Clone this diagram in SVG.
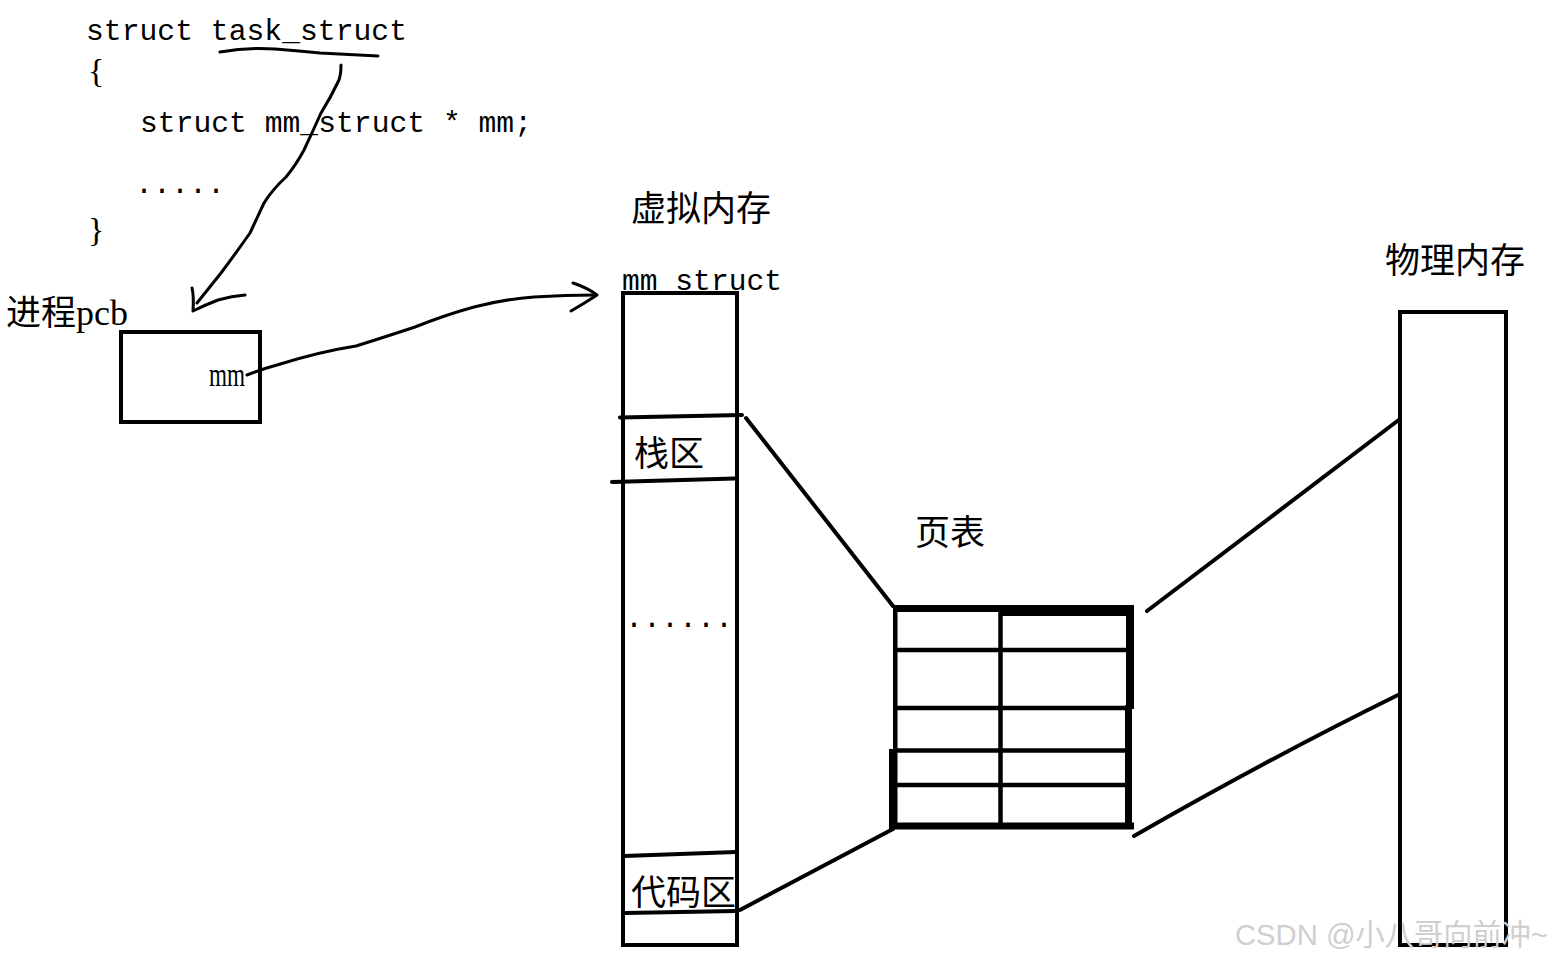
<svg xmlns="http://www.w3.org/2000/svg" width="1554" height="960" viewBox="0 0 1554 960">
<style>
.code{font-family:"Liberation Mono",monospace;font-size:30px;fill:#000}
.brace{font-family:"Liberation Serif",serif;font-size:34px;fill:#000}
.cjk{font-family:"Noto Sans CJK SC",sans-serif;font-size:35px;fill:#000}
.ser{font-family:"Liberation Serif","Noto Sans CJK SC",serif;fill:#000}
.box{fill:none;stroke:#000;stroke-width:4}
.ink{fill:none;stroke:#000;stroke-width:3;stroke-linecap:round;stroke-linejoin:round}
.ln{fill:none;stroke:#000;stroke-width:4;stroke-linecap:round}
.grid{stroke:#000;stroke-width:4.5}
.wm{font-family:"Liberation Sans","Noto Sans CJK SC",sans-serif;font-size:30px;fill:#cfcfcf}
</style>
<rect width="1554" height="960" fill="#fff"/>

<g id="code">
<text class="code" x="86" y="40" textLength="321" lengthAdjust="spacingAndGlyphs">struct task_struct</text>
<text class="brace" x="88" y="82">{</text>
<text class="code" x="140" y="132" textLength="392" lengthAdjust="spacingAndGlyphs">struct mm_struct * mm;</text>
<text class="code" x="135" y="193">.....</text>
<text class="brace" x="88" y="241">}</text>
</g>

<g id="pcb">
<text x="6" y="325"><tspan class="cjk">进程</tspan><tspan class="ser" font-size="36">pcb</tspan></text>
<rect class="box" x="121" y="332" width="139" height="90"/>
<text class="ser" x="209" y="386" font-size="34" textLength="36" lengthAdjust="spacingAndGlyphs">mm</text>
</g>

<g id="virtual-memory">
<text class="cjk" x="631" y="221">虚拟内存</text>
<text class="code" x="622" y="289.5" textLength="160" lengthAdjust="spacingAndGlyphs">mm_struct</text>
<rect class="box" x="623" y="293" width="114" height="652"/>
<path class="ln" d="M620,417.5 L742,415"/>
<path class="ln" d="M612,482 L735,478.5"/>
<text class="cjk" x="634" y="466">栈区</text>
<text class="code" x="625" y="627" textLength="108">......</text>
<path class="ln" d="M624,856 L736,852"/>
<text class="cjk" x="631" y="905">代码区</text>
<path class="ln" d="M625,913 L736,911"/>
</g>

<g id="page-table">
<text class="cjk" x="915" y="545">页表</text>
<rect x="893" y="605" width="240" height="7" fill="#000"/>
<rect x="1000" y="605" width="133" height="11" fill="#000"/>
<rect x="893" y="822.5" width="241" height="7" fill="#000"/>
<rect x="893" y="605" width="4.5" height="224" fill="#000"/>
<rect x="889" y="749" width="8" height="80" fill="#000"/>
<rect x="1126" y="605" width="8" height="104" fill="#000"/>
<rect x="1125" y="705" width="7" height="124" fill="#000"/>
<line class="grid" x1="1000.5" y1="608" x2="1000.5" y2="826"/>
<line class="grid" x1="893" y1="650" x2="1130" y2="650"/>
<line class="grid" x1="893" y1="708" x2="1130" y2="708"/>
<line class="grid" x1="893" y1="750.5" x2="1130" y2="750.5"/>
<line class="grid" x1="893" y1="785" x2="1130" y2="785"/>
</g>

<g id="physical-memory">
<text class="cjk" x="1385" y="273">物理内存</text>
<rect class="box" x="1400" y="312" width="106" height="633"/>
</g>

<g id="connectors">
<path class="ink" d="M220,52 Q248,47 275,49 Q300,51 320,53 L378,56"/>
<path class="ink" d="M341,65 Q341,74 339,80 Q331,97 321,113 Q312,133 304,150 Q296,165 286,177 Q272,190 264,203 Q257,218 250,233 Q236,253 221,273 L197,303"/>
<path class="ink" d="M192,288 Q194,296 193,311 Q205,305 218,300 Q232,296 245,295"/>
<path class="ink" d="M247,375 Q262,369 277,365 Q318,352 356,346 Q388,336 415,327 Q445,315 474,307 Q505,299 534,297 Q565,295 595,295"/>
<path class="ink" d="M573,283 Q588,288 597,295 Q585,303 571,311"/>
<path class="ln" d="M746,418 L893,606"/>
<path class="ln" d="M740,910 L893,829"/>
<path class="ln" d="M1147,611 Q1280,510 1400,419"/>
<path class="ln" d="M1134,836 Q1270,758 1398,695"/>
</g>

<text class="wm" x="1235" y="945" textLength="313" lengthAdjust="spacingAndGlyphs">CSDN @小八哥向前冲~</text>
</svg>
